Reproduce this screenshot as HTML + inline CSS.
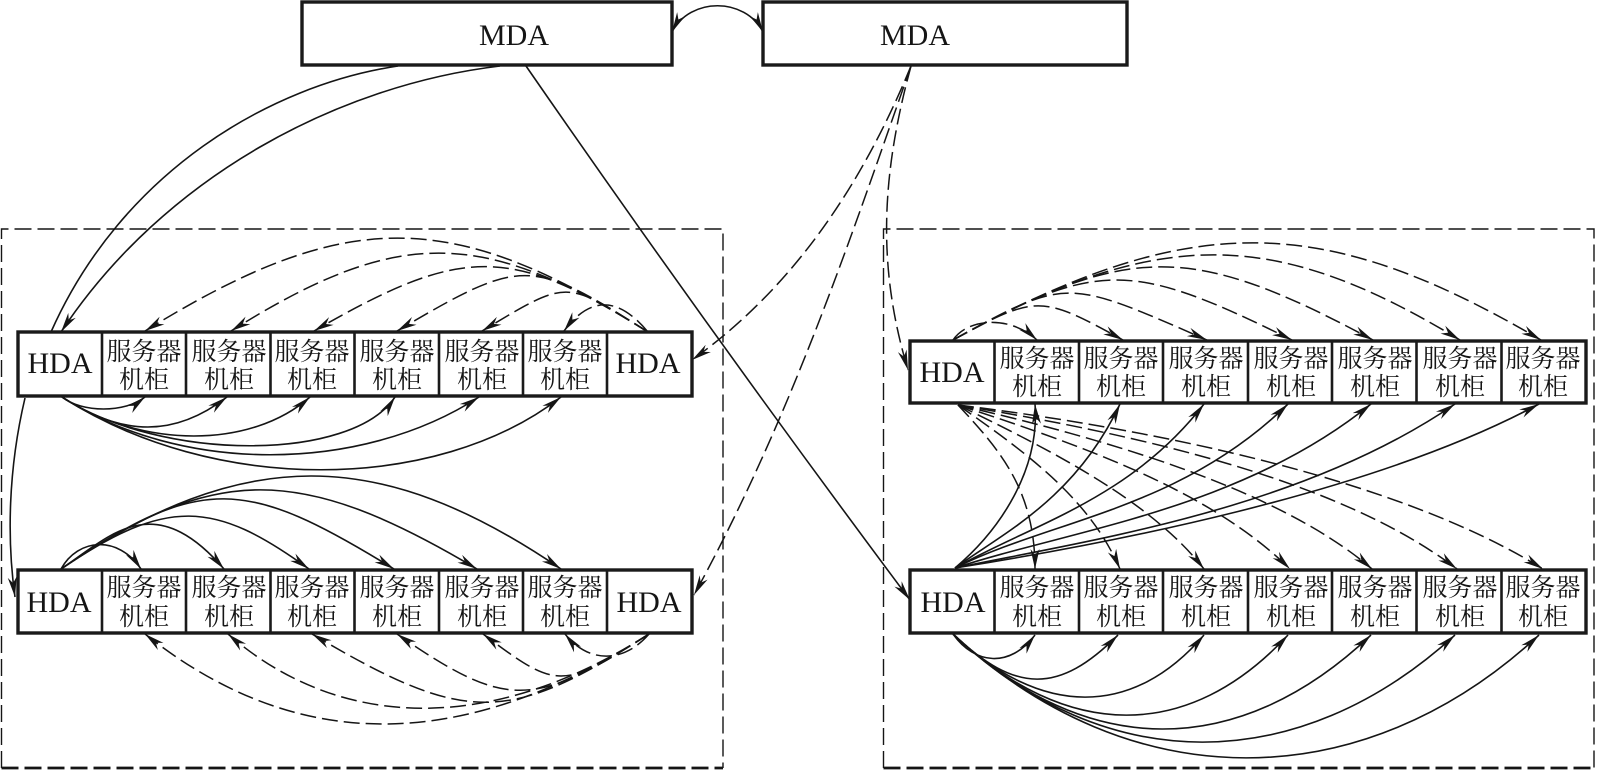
<!DOCTYPE html>
<html><head><meta charset="utf-8"><style>
html,body{margin:0;padding:0;background:#fff;width:1597px;height:770px;overflow:hidden}
svg{display:block}
.s{fill:none;stroke:#151515;stroke-width:1.6}
.d{fill:none;stroke:#151515;stroke-width:1.5;stroke-dasharray:16 6}
.a{marker-end:url(#h)}
.b{fill:#fff;stroke:#1a1a1a;stroke-width:3.4}
.l{stroke:#1a1a1a;stroke-width:2.6}
.e{font-family:"Liberation Serif",serif;font-size:30px;fill:#151515;text-anchor:middle}
.c{font-family:"Liberation Serif","Noto Serif CJK SC",serif;font-size:25px;fill:#151515;text-anchor:middle}
</style></head><body>
<svg width="1597" height="770" viewBox="0 0 1597 770" xmlns="http://www.w3.org/2000/svg">
<defs>
<marker id="h" markerUnits="userSpaceOnUse" markerWidth="21" markerHeight="11" refX="20" refY="5" orient="auto"><path d="M20 5 L0 0.5 L6 5 L0 9.5 Z" fill="#151515"/></marker>
<marker id="hs" markerUnits="userSpaceOnUse" markerWidth="21" markerHeight="11" refX="0" refY="5" orient="auto"><path d="M0 5 L20 0.5 L14 5 L20 9.5 Z" fill="#151515"/></marker>
</defs>

<!-- dashed containers -->
<g fill="none" stroke="#151515" stroke-width="1.4" stroke-dasharray="17 6">
<path d="M1.5 768 V229 H723 V768"/>
<path d="M883.5 768 V229 H1594 V768"/>
</g>
<g fill="none" stroke="#151515" stroke-width="2.8" stroke-dasharray="17 6">
<path d="M1.5 768 H723"/><path d="M883.5 768 H1594"/>
</g>

<!-- MDA links -->
<path class="s a" d="M672 32 C690 -3 745 -3 763 32" marker-start="url(#hs)"/>
<path class="s" d="M398 66 C270 85 122 172 51 332"/>
<path class="s a" d="M25 398 C8 470 7 540 15 597"/>
<path class="s a" d="M500 66 C340 85 165 175 61 332"/>
<path class="s a" d="M526 66 Q 712 335 910 600"/>
<path class="d a" d="M911 66 C860 190 790 290 692 360"/>
<path class="d a" d="M911 66 C850 240 790 420 694 595"/>
<path class="d a" d="M911 66 C880 180 878 270 908 370"/>

<!-- Row A dashed -->
<path class="d a" d="M648 332 C451 207 346 207 145 331"/>
<path class="d a" d="M648 332 C481 227 397 227 231 331"/>
<path class="d a" d="M648 332 C510 245 463 245 314 331"/>
<path class="d a" d="M648 332 C529 257 523 257 397 331"/>
<path class="d a" d="M648 332 C564 279 569 279 482 331"/>
<path class="d a" d="M648 332 C618 296 590 296 564 331"/>
<!-- Row A solid -->
<path class="s a" d="M62 397 C82 413 125 413 145 397"/>
<path class="s a" d="M62 397 C123 437 175 437 227 397"/>
<path class="s a" d="M62 397 C142 449 251 449 310 397"/>
<path class="s a" d="M62 397 C162 462 352 462 395 397"/>
<path class="s a" d="M62 397 C180 474 360 474 479 397"/>
<path class="s a" d="M62 397 C212 494 436 494 561 397"/>

<!-- Row B solid -->
<path class="s a" d="M61 569 C78 538 118 535 141 569"/>
<path class="s a" d="M61 569 C111 535 154 488 224 569"/>
<path class="s a" d="M61 569 C167 497 214 500 309 569"/>
<path class="s a" d="M61 569 C201 474 245 477 394 569"/>
<path class="s a" d="M61 569 C215 464 299 463 477 569"/>
<path class="s a" d="M61 569 C243 445 379 445 561 569"/>
<!-- Row B dashed -->
<path class="d a" d="M649 634 C461 754 296 754 145 634"/>
<path class="d a" d="M649 634 C494 733 342 733 228 634"/>
<path class="d a" d="M649 634 C507 725 466 725 312 634"/>
<path class="d a" d="M649 634 C532 709 506 709 397 634"/>
<path class="d a" d="M649 634 C561 690 558 690 483 634"/>
<path class="d a" d="M649 634 C625 662 590 665 565 634"/>

<!-- Row C dashed above -->
<path class="d a" d="M953 340 C968 318 1010 315 1037 340"/>
<path class="d a" d="M953 340 C1037 294 1041 295 1123 340"/>
<path class="d a" d="M953 340 C1068 277 1065 278 1207 340"/>
<path class="d a" d="M953 340 C1098 260 1130 260 1292 340"/>
<path class="d a" d="M953 340 C1131 242 1192 243 1373 340"/>
<path class="d a" d="M953 340 C1158 227 1272 226 1460 340"/>
<path class="d a" d="M953 340 C1189 210 1321 211 1541 340"/>

<!-- Row C to Row D dashed -->
<path class="d a" d="M958 405 C1000 450 1035 490 1035 569"/>
<path class="d a" d="M958 405 C1030 455 1090 500 1120 569"/>
<path class="d a" d="M958 405 C1050 450 1150 500 1204 569"/>
<path class="d a" d="M958 405 C1080 445 1210 490 1290 569"/>
<path class="d a" d="M958 405 C1110 440 1280 490 1372 569"/>
<path class="d a" d="M958 405 C1140 435 1340 480 1457 569"/>
<path class="d a" d="M958 405 C1160 430 1400 480 1543 569"/>

<!-- Row D to Row C solid -->
<path class="s a" d="M955 568 C1000 530 1040 470 1035 404"/>
<path class="s a" d="M955 568 C1000 535 1075 500 1120 404"/>
<path class="s a" d="M955 568 C1030 525 1130 500 1204 404"/>
<path class="s a" d="M955 568 C1050 520 1180 510 1288 404"/>
<path class="s a" d="M955 568 C1070 530 1240 510 1371 404"/>
<path class="s a" d="M955 568 C1090 540 1300 510 1455 404"/>
<path class="s a" d="M955 568 C1100 545 1370 495 1539 404"/>

<!-- Row D solid below -->
<path class="s a" d="M953 634 C975 665 1010 668 1035 635"/>
<path class="s a" d="M953 634 C1016 694 1059 694 1118 635"/>
<path class="s a" d="M953 634 C1041 718 1133 718 1204 635"/>
<path class="s a" d="M953 634 C1067 742 1189 742 1288 635"/>
<path class="s a" d="M953 634 C1086 760 1238 761 1371 635"/>
<path class="s a" d="M953 634 C1105 778 1298 778 1455 635"/>
<path class="s a" d="M953 634 C1130 799 1362 799 1539 635"/>

<!-- MDA boxes -->
<rect class="b" x="302" y="2" width="370" height="63"/>
<rect class="b" x="763" y="2" width="364" height="63"/>
<text class="e" x="514" y="45">MDA</text>
<text class="e" x="915" y="45">MDA</text>

<!-- Row A -->
<rect class="b" x="18" y="332" width="674" height="64"/>
<g class="l"><line x1="102" y1="332" x2="102" y2="396"/><line x1="186" y1="332" x2="186" y2="396"/><line x1="270.5" y1="332" x2="270.5" y2="396"/><line x1="354.5" y1="332" x2="354.5" y2="396"/><line x1="439" y1="332" x2="439" y2="396"/><line x1="523" y1="332" x2="523" y2="396"/><line x1="607" y1="332" x2="607" y2="396"/></g>
<text class="e" x="60" y="373">HDA</text><text class="e" x="648" y="373">HDA</text>
<text class="c" x="144" y="360">服务器</text><text class="c" x="144" y="388">机柜</text>
<text class="c" x="229" y="360">服务器</text><text class="c" x="229" y="388">机柜</text>
<text class="c" x="312" y="360">服务器</text><text class="c" x="312" y="388">机柜</text>
<text class="c" x="397" y="360">服务器</text><text class="c" x="397" y="388">机柜</text>
<text class="c" x="482" y="360">服务器</text><text class="c" x="482" y="388">机柜</text>
<text class="c" x="565" y="360">服务器</text><text class="c" x="565" y="388">机柜</text>

<!-- Row B -->
<rect class="b" x="18" y="570" width="674" height="63"/>
<g class="l"><line x1="102" y1="570" x2="102" y2="633"/><line x1="186" y1="570" x2="186" y2="633"/><line x1="270.5" y1="570" x2="270.5" y2="633"/><line x1="354.5" y1="570" x2="354.5" y2="633"/><line x1="439" y1="570" x2="439" y2="633"/><line x1="523" y1="570" x2="523" y2="633"/><line x1="607" y1="570" x2="607" y2="633"/></g>
<text class="e" x="59" y="612">HDA</text><text class="e" x="649" y="612">HDA</text>
<text class="c" x="144" y="596">服务器</text><text class="c" x="144" y="625">机柜</text>
<text class="c" x="229" y="596">服务器</text><text class="c" x="229" y="625">机柜</text>
<text class="c" x="312" y="596">服务器</text><text class="c" x="312" y="625">机柜</text>
<text class="c" x="397" y="596">服务器</text><text class="c" x="397" y="625">机柜</text>
<text class="c" x="482" y="596">服务器</text><text class="c" x="482" y="625">机柜</text>
<text class="c" x="565" y="596">服务器</text><text class="c" x="565" y="625">机柜</text>

<!-- Row C -->
<rect class="b" x="910" y="341" width="676" height="62"/>
<g class="l"><line x1="994.5" y1="341" x2="994.5" y2="403"/><line x1="1079" y1="341" x2="1079" y2="403"/><line x1="1163" y1="341" x2="1163" y2="403"/><line x1="1248" y1="341" x2="1248" y2="403"/><line x1="1332" y1="341" x2="1332" y2="403"/><line x1="1416.5" y1="341" x2="1416.5" y2="403"/><line x1="1501.5" y1="341" x2="1501.5" y2="403"/></g>
<text class="e" x="952" y="382">HDA</text>
<text class="c" x="1037" y="367">服务器</text><text class="c" x="1037" y="395">机柜</text>
<text class="c" x="1121" y="367">服务器</text><text class="c" x="1121" y="395">机柜</text>
<text class="c" x="1206" y="367">服务器</text><text class="c" x="1206" y="395">机柜</text>
<text class="c" x="1291" y="367">服务器</text><text class="c" x="1291" y="395">机柜</text>
<text class="c" x="1375" y="367">服务器</text><text class="c" x="1375" y="395">机柜</text>
<text class="c" x="1460" y="367">服务器</text><text class="c" x="1460" y="395">机柜</text>
<text class="c" x="1543" y="367">服务器</text><text class="c" x="1543" y="395">机柜</text>

<!-- Row D -->
<rect class="b" x="910" y="570" width="676" height="63"/>
<g class="l"><line x1="994.5" y1="570" x2="994.5" y2="633"/><line x1="1079" y1="570" x2="1079" y2="633"/><line x1="1163" y1="570" x2="1163" y2="633"/><line x1="1248" y1="570" x2="1248" y2="633"/><line x1="1332" y1="570" x2="1332" y2="633"/><line x1="1416.5" y1="570" x2="1416.5" y2="633"/><line x1="1501.5" y1="570" x2="1501.5" y2="633"/></g>
<text class="e" x="953" y="612">HDA</text>
<text class="c" x="1037" y="596">服务器</text><text class="c" x="1037" y="625">机柜</text>
<text class="c" x="1121" y="596">服务器</text><text class="c" x="1121" y="625">机柜</text>
<text class="c" x="1206" y="596">服务器</text><text class="c" x="1206" y="625">机柜</text>
<text class="c" x="1291" y="596">服务器</text><text class="c" x="1291" y="625">机柜</text>
<text class="c" x="1375" y="596">服务器</text><text class="c" x="1375" y="625">机柜</text>
<text class="c" x="1460" y="596">服务器</text><text class="c" x="1460" y="625">机柜</text>
<text class="c" x="1543" y="596">服务器</text><text class="c" x="1543" y="625">机柜</text>
</svg>
</body></html>
